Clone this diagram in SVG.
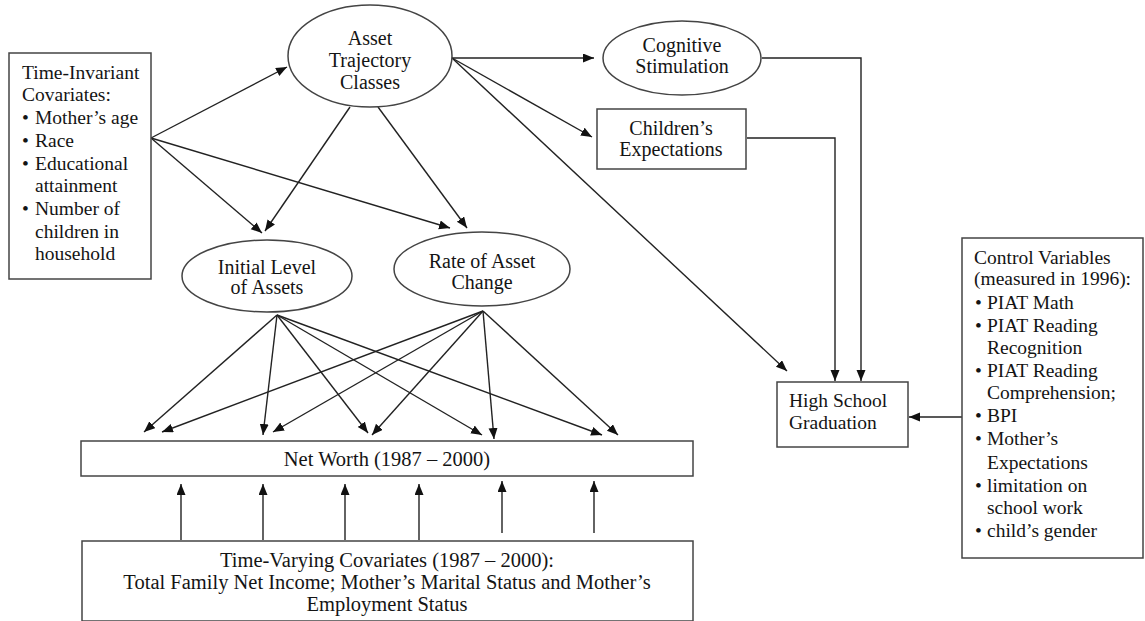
<svg xmlns="http://www.w3.org/2000/svg" width="1145" height="621" viewBox="0 0 1145 621">
  <defs>
    <marker id="arrow" markerUnits="userSpaceOnUse" markerWidth="12" markerHeight="10" refX="11" refY="4.5" orient="auto">
      <path d="M0,0 L11,4.5 L0,9 z" fill="#111"/>
    </marker>
    <style>
      text { font-family: "Liberation Serif", "Times New Roman", serif; font-size: 19.5px; fill: #141414; }
      .c { text-anchor: middle; }
      .big { font-size: 20.5px; }
      .oval { font-size: 20px; }
      .shape { fill: #fff; stroke: #444; stroke-width: 1.5; }
      .edge { fill: none; stroke: #222; stroke-width: 1.4; marker-end: url(#arrow); }
    </style>
  </defs>
  <rect width="1145" height="621" fill="#fff"/>

  <!-- connectors -->
  <g id="connectors">
    <line class="edge" x1="151" y1="138" x2="287" y2="67"/>
    <line class="edge" x1="151" y1="138" x2="262" y2="233"/>
    <line class="edge" x1="151" y1="138" x2="450" y2="228"/>
    <line class="edge" x1="350" y1="107" x2="265" y2="231"/>
    <line class="edge" x1="378" y1="107" x2="467" y2="228"/>
    <line class="edge" x1="452" y1="58" x2="594" y2="58"/>
    <line class="edge" x1="452" y1="58" x2="592" y2="137"/>
    <line class="edge" x1="452" y1="58" x2="787" y2="371"/>
    <polyline class="edge" points="762,58 861,58 861,381"/>
    <polyline class="edge" points="747,138 835,138 835,381"/>
    <line class="edge" x1="962" y1="417" x2="909" y2="417"/>
    <!-- Initial Level of Assets to Net Worth -->
    <line class="edge" x1="277" y1="315" x2="144" y2="432"/>
    <line class="edge" x1="277" y1="315" x2="263" y2="435"/>
    <line class="edge" x1="277" y1="315" x2="368" y2="433"/>
    <line class="edge" x1="277" y1="315" x2="482" y2="435"/>
    <line class="edge" x1="277" y1="315" x2="602" y2="435"/>
    <!-- Rate of Asset Change to Net Worth -->
    <line class="edge" x1="483" y1="311" x2="162" y2="432"/>
    <line class="edge" x1="483" y1="311" x2="273" y2="432"/>
    <line class="edge" x1="483" y1="311" x2="372" y2="435"/>
    <line class="edge" x1="483" y1="311" x2="494" y2="439"/>
    <line class="edge" x1="483" y1="311" x2="618" y2="435"/>
    <!-- Time-varying covariates to Net Worth -->
    <line class="edge" x1="181" y1="540" x2="181" y2="484"/>
    <line class="edge" x1="263" y1="540" x2="263" y2="484"/>
    <line class="edge" x1="345" y1="540" x2="345" y2="484"/>
    <line class="edge" x1="419" y1="540" x2="419" y2="484"/>
    <line class="edge" x1="502" y1="533" x2="502" y2="481"/>
    <line class="edge" x1="594" y1="533" x2="594" y2="481"/>
  </g>

  <g id="time-invariant">
    <rect class="shape" x="9" y="53" width="142" height="226"/>
    <text x="22" y="79">Time-Invariant</text>
    <text x="22" y="101">Covariates:</text>
    <text x="22" y="124">•</text><text x="35" y="124">Mother’s age</text>
    <text x="22" y="147">•</text><text x="35" y="147">Race</text>
    <text x="22" y="170">•</text><text x="35" y="170">Educational</text>
    <text x="35" y="192">attainment</text>
    <text x="22" y="215">•</text><text x="35" y="215">Number of</text>
    <text x="35" y="238">children in</text>
    <text x="35" y="260">household</text>
  </g>

  <g id="asset-trajectory">
    <ellipse class="shape" cx="370" cy="56" rx="82" ry="51"/>
    <text class="c oval" x="370" y="45">Asset</text>
    <text class="c oval" x="370" y="67">Trajectory</text>
    <text class="c oval" x="370" y="89">Classes</text>
  </g>

  <g id="cognitive">
    <ellipse class="shape" cx="682" cy="58" rx="79" ry="37"/>
    <text class="c oval" x="682" y="52">Cognitive</text>
    <text class="c oval" x="682" y="73">Stimulation</text>
  </g>

  <g id="childrens-expectations">
    <rect class="shape" x="597" y="109" width="149" height="60"/>
    <text class="c oval" x="671" y="135">Children’s</text>
    <text class="c oval" x="671" y="156">Expectations</text>
  </g>

  <g id="initial-level">
    <ellipse class="shape" cx="267" cy="276" rx="85" ry="36"/>
    <text class="c oval" x="267" y="274">Initial Level</text>
    <text class="c oval" x="267" y="294">of Assets</text>
  </g>

  <g id="rate-of-change">
    <ellipse class="shape" cx="482" cy="269" rx="88" ry="37"/>
    <text class="c oval" x="482" y="268">Rate of Asset</text>
    <text class="c oval" x="482" y="289">Change</text>
  </g>

  <g id="high-school">
    <rect class="shape" x="777" y="382" width="131" height="65"/>
    <text x="789" y="407">High School</text>
    <text x="789" y="429">Graduation</text>
  </g>

  <g id="control-variables">
    <rect class="shape" x="962" y="238" width="181" height="320"/>
    <text x="974" y="264">Control Variables</text>
    <text x="974" y="285">(measured in 1996):</text>
    <text x="975" y="309">•</text><text x="987" y="309">PIAT Math</text>
    <text x="975" y="332">•</text><text x="987" y="332">PIAT Reading</text>
    <text x="987" y="354">Recognition</text>
    <text x="975" y="377">•</text><text x="987" y="377">PIAT Reading</text>
    <text x="987" y="399">Comprehension;</text>
    <text x="975" y="422">•</text><text x="987" y="422">BPI</text>
    <text x="975" y="445">•</text><text x="987" y="445">Mother’s</text>
    <text x="987" y="469">Expectations</text>
    <text x="975" y="492">•</text><text x="987" y="492">limitation on</text>
    <text x="987" y="514">school work</text>
    <text x="975" y="537">•</text><text x="987" y="537">child’s gender</text>
  </g>

  <g id="net-worth">
    <rect class="shape" x="81" y="441" width="612" height="35"/>
    <text class="c big" x="387" y="466">Net Worth (1987 – 2000)</text>
  </g>

  <g id="time-varying">
    <rect class="shape" x="82" y="541" width="611" height="80"/>
    <text class="c big" x="387" y="567">Time-Varying Covariates (1987 – 2000):</text>
    <text class="c big" x="387" y="589">Total Family Net Income; Mother’s Marital Status and Mother’s</text>
    <text class="c big" x="387" y="611">Employment Status</text>
  </g>
</svg>
